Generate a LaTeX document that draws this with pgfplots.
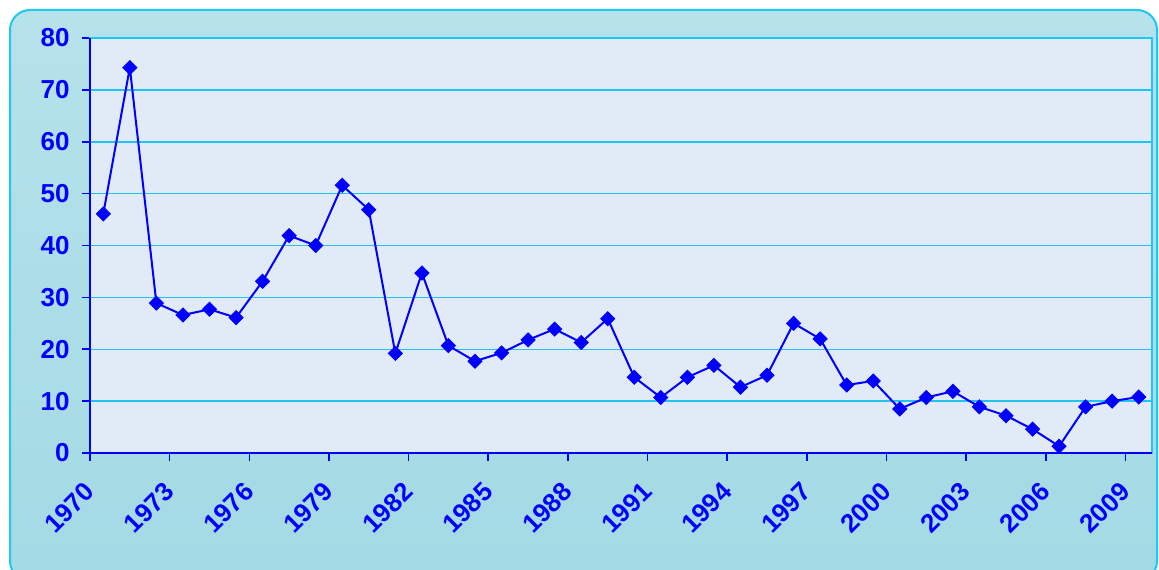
\documentclass[border=0pt]{standalone}
\usepackage{fontspec}
\setmainfont{Liberation Sans}
\usepackage{pgfplots}
\pgfplotsset{compat=1.18}

\definecolor{framecyan}{HTML}{1EC8F0}
\definecolor{outertop}{HTML}{B6E2EA}
\definecolor{outerbottom}{HTML}{A3DAE5}
\definecolor{plotfill}{HTML}{E1EBF7}
\definecolor{gridcyan}{HTML}{22C2F2}
\definecolor{serieblue}{HTML}{0000FF}

% yearly values, one per category (x = position of category centre)
\pgfplotstableread{
x     year  val
0.5   1970  46.1
1.5   1971  74.3
2.5   1972  28.9
3.5   1973  26.6
4.5   1974  27.7
5.5   1975  26.1
6.5   1976  33.1
7.5   1977  41.9
8.5   1978  40.0
9.5   1979  51.6
10.5  1980  46.9
11.5  1981  19.2
12.5  1982  34.7
13.5  1983  20.7
14.5  1984  17.7
15.5  1985  19.3
16.5  1986  21.8
17.5  1987  23.9
18.5  1988  21.3
19.5  1989  25.9
20.5  1990  14.6
21.5  1991  10.7
22.5  1992  14.6
23.5  1993  16.9
24.5  1994  12.7
25.5  1995  15.0
26.5  1996  25.0
27.5  1997  22.0
28.5  1998  13.1
29.5  1999  13.9
30.5  2000  8.5
31.5  2001  10.7
32.5  2002  11.9
33.5  2003  8.9
34.5  2004  7.2
35.5  2005  4.6
36.5  2006  1.3
37.5  2007  8.9
38.5  2008  10.0
39.5  2009  10.8
}\yearly

\begin{document}
\begin{tikzpicture}
\useasboundingbox (0pt,0pt) rectangle (579.5pt,284.5pt);
% chart area
\shade[top color=outertop, bottom color=outerbottom, rounded corners=10pt]
  (5pt,-6pt) rectangle (578.5pt,279.5pt);
\draw[framecyan, line width=1pt, rounded corners=10pt]
  (5pt,-6pt) rectangle (578.5pt,279.5pt);
\begin{axis}[
  at={(45pt,58pt)}, anchor=south west,
  scale only axis, width=531pt, height=207.5pt,
  xmin=0, xmax=40, ymin=0, ymax=80,
  axis background/.style={fill=plotfill},
  axis line style={draw=framecyan, line width=0.8pt},
  xtick={0,3,...,39},
  xticklabels={1970,1973,1976,1979,1982,1985,1988,1991,1994,1997,2000,2003,2006,2009},
  ytick={0,10,...,80},
  xtick pos=bottom, ytick pos=left,
  tick align=outside,
  major tick length=4pt,
  major tick style={draw=serieblue, line width=0.8pt},
  /pgf/number format/assume math mode=true,
  ticklabel style={font=\bfseries\fontsize{13}{13}\selectfont, text=serieblue},
  yticklabel style={anchor=east, inner sep=0pt, xshift=-6pt},
  xticklabel style={xshift=0pt, yshift=-13pt, rotate=45, anchor=east, inner sep=0pt},
  clip=false,
]
% horizontal gridlines
\pgfplotsinvokeforeach{10,20,...,70}{
  \draw[gridcyan, line width=0.75pt] (axis cs:0,#1) -- (axis cs:40,#1);
}
\addplot[serieblue, line width=1pt, mark=square*, mark size=2.5pt,
  mark options={rotate=45, fill=serieblue, draw=serieblue, line width=0.4pt}]
  table[x=x, y=val] {\yearly};
\draw[serieblue, line width=0.9pt] (rel axis cs:0,1) -- (rel axis cs:0,0) -- (rel axis cs:1,0);
\end{axis}
\end{tikzpicture}
\end{document}
